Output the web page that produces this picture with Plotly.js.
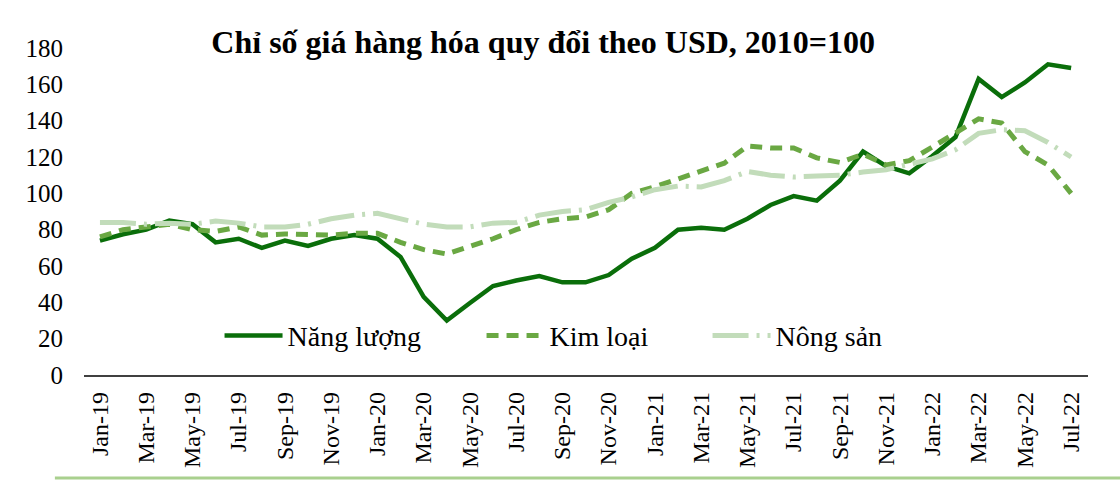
<!DOCTYPE html>
<html>
<head>
<meta charset="utf-8">
<script src="https://cdn.plot.ly/plotly-3.0.1.min.js"></script>
<style>
  html, body { margin: 0; padding: 0; background: #fff; }
  #chart { width: 1120px; height: 480px; }
</style>
</head>
<body>
<div id="chart"></div>
<script>
  // months Jan-19 .. Jul-22
  var months = ['Jan-19','Feb-19','Mar-19','Apr-19','May-19','Jun-19','Jul-19','Aug-19','Sep-19','Oct-19','Nov-19','Dec-19',
                'Jan-20','Feb-20','Mar-20','Apr-20','May-20','Jun-20','Jul-20','Aug-20','Sep-20','Oct-20','Nov-20','Dec-20',
                'Jan-21','Feb-21','Mar-21','Apr-21','May-21','Jun-21','Jul-21','Aug-21','Sep-21','Oct-21','Nov-21','Dec-21',
                'Jan-22','Feb-22','Mar-22','Apr-22','May-22','Jun-22','Jul-22'];

  var nangLuong = [74, 77.5, 80, 85, 83, 73, 75, 70, 74, 71, 75, 77,
                   75, 65, 43, 30, 39.6, 49, 52, 54.5, 51, 51, 55, 64,
                   70, 80, 81, 80, 86, 93.6, 98.5, 96, 107, 123, 115, 111,
                   120.5, 131, 163, 153, 161, 171, 169];

  var kimLoai = [76, 80, 81.5, 83, 80, 79, 81.5, 77, 77.6, 77, 77, 78,
                 78, 73, 69, 66.6, 70.5, 75, 80, 84, 86, 87, 91, 100,
                 103.6, 108, 112, 116.6, 126, 125, 125, 119.5, 117, 121.6, 115.6, 118,
                 125.5, 133, 141, 138.7, 123, 115.6, 100];

  var nongSan = [84, 84, 83, 83.6, 83, 84.7, 83.6, 81.5, 81.5, 83, 86, 88,
                 89, 86, 83, 81.5, 81.5, 83.6, 84, 88, 90, 91, 95, 98,
                 102, 104, 103.5, 107, 112, 110, 109, 109.5, 110, 111.7, 113, 116,
                 119, 124, 133, 135, 134.5, 128, 120];

  var yTicks = [0, 20, 40, 60, 80, 100, 120, 140, 160, 180];
  // every second month gets a label
  var xTicks = months.filter(function (m, i) { return i % 2 === 0; });

  var serif = "'Liberation Serif', 'Times New Roman', 'DejaVu Serif', serif";

  var data = [
    {
      x: months, y: nangLuong, name: 'Năng lượng', type: 'scatter', mode: 'lines',
      line: { color: '#0a6e0a', width: 4.5 },
      legendwidth: 189
    },
    {
      x: months, y: kimLoai, name: 'Kim loại', type: 'scatter', mode: 'lines',
      line: { color: '#6aa843', width: 5, dash: '12px,8px' },
      legendwidth: 153
    },
    {
      x: months, y: nongSan, name: 'Nông sản', type: 'scatter', mode: 'lines',
      line: { color: '#c2dcba', width: 5, dash: '36px,8px,3px,8px' },
      legendwidth: 130
    }
  ];

  var layout = {
    width: 1120,
    height: 480,
    paper_bgcolor: '#fff',
    plot_bgcolor: 'rgba(0,0,0,0)',
    margin: { l: 84, r: 32, t: 48, b: 105 },
    showlegend: true,
    font: { family: serif },
    title: {
      text: '<b>Chỉ số giá hàng hóa quy đổi theo USD, 2010=100</b>',
      font: { family: serif, size: 32, color: '#000' },
      x: 0.485, xanchor: 'center', xref: 'container',
      y: 0.912, yanchor: 'middle', yref: 'container'
    },
    xaxis: {
      type: 'category',
      range: [-0.69, 42.73],
      tickmode: 'array',
      tickvals: xTicks,
      ticktext: xTicks,
      tickangle: -90,
      tickfont: { family: serif, size: 24, color: '#000' },
      showgrid: false,
      zeroline: false,
      showline: true,
      linecolor: '#404040',
      linewidth: 1.5,
      ticks: '',
      ticklabelstandoff: 6,
      fixedrange: true
    },
    yaxis: {
      range: [0, 180],
      tickmode: 'array',
      tickvals: yTicks,
      tickfont: { family: serif, size: 25, color: '#000' },
      showgrid: false,
      zeroline: false,
      showline: false,
      ticks: '',
      ticklabelstandoff: 20,
      fixedrange: true
    },
    legend: {
      orientation: 'h',
      x: 0.135, xanchor: 'left',
      y: 0.12, yanchor: 'middle',
      bgcolor: 'rgba(0,0,0,0)',
      font: { family: serif, size: 28, color: '#000' },
      itemwidth: 58,
      traceorder: 'normal'
    },
    shapes: [
      {
        type: 'line', xref: 'paper', yref: 'paper',
        x0: -0.029, x1: 1.04, y0: -0.315, y1: -0.315,
        line: { color: '#a9d08e', width: 3 }
      }
    ]
  };

  Plotly.newPlot('chart', data, layout, { displayModeBar: false, staticPlot: true });
</script>
</body>
</html>
